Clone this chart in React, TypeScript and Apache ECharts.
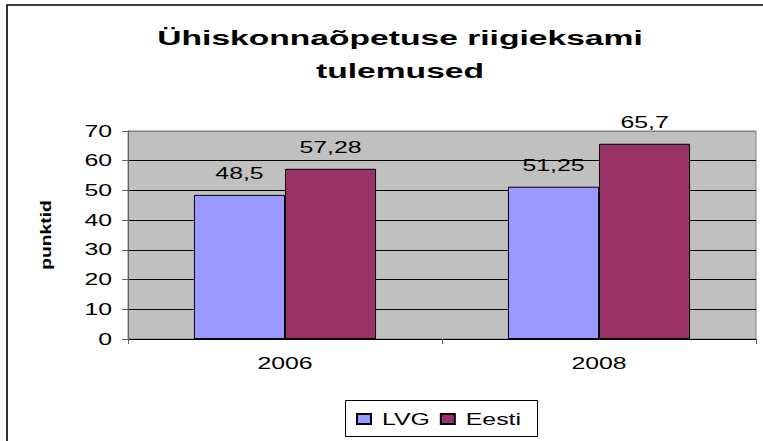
import React, { useEffect, useRef } from "react";
import * as echarts from "echarts";

const categories = ["2006", "2008"];
const lvgValues = [48.5, 51.25];
const eestiValues = [57.28, 65.7];
const seriesNames = ["LVG", "Eesti"];
const titleText = "Ühiskonnaõpetuse riigieksami\ntulemused";
const yAxisName = "punktid";

const FONT = "'Liberation Sans', Arial, sans-serif";

// The reference's texts are drawn horizontally stretched along their reading direction.
function stretchFor(txt: string): number {
  if (txt.indexOf("Ühiskonna") === 0 || txt === "tulemused") return 1.68;
  if (txt === yAxisName) return 1.38;
  return 1.55;
}

function stretchTexts(root: HTMLElement | null) {
  if (!root) return;
  const nodes = root.querySelectorAll("svg text");
  nodes.forEach((node) => {
    const t = node as SVGTextElement;
    const content = t.textContent || "";
    if (!content.trim()) return;
    let w0 = t.getAttribute("data-w0");
    if (w0 == null || t.getAttribute("data-txt") !== content) {
      t.removeAttribute("textLength");
      const len = t.getComputedTextLength();
      if (!len) return;
      w0 = String(len);
      t.setAttribute("data-w0", w0);
      t.setAttribute("data-txt", content);
    }
    t.setAttribute("textLength", String(parseFloat(w0) * stretchFor(content)));
    t.setAttribute("lengthAdjust", "spacingAndGlyphs");
  });
}

export default function App() {
  const ref = useRef<HTMLDivElement>(null);
  useEffect(() => {
    if (!ref.current) return;
    const el = ref.current;
    const chart = echarts.init(el, undefined, { renderer: "svg" });
    const labelFmt = (p: any) => String(p.value).replace(".", ",");
    const barLabel = {
      show: true,
      position: "top",
      distance: 13,
      formatter: labelFmt,
      fontFamily: FONT,
      fontSize: 16,
      color: "#000",
    };
    chart.setOption({
      animation: false,
      backgroundColor: "#fff",
      textStyle: { fontFamily: FONT },
      title: {
        text: titleText,
        left: 400,
        top: 21,
        padding: 0,
        textAlign: "center",
        textStyle: {
          fontFamily: FONT,
          fontWeight: "bold",
          fontSize: 20,
          lineHeight: 33,
          color: "#000",
        },
      },
      graphic: [
        {
          type: "rect",
          shape: { x: 7, y: 5, width: 800, height: 500 },
          style: { fill: "none", stroke: "#000", lineWidth: 1.6 },
          silent: true,
          z: 10,
        },
        {
          type: "rect",
          shape: { x: 345.5, y: 400.5, width: 192, height: 36 },
          style: { fill: "#fff", stroke: "#000", lineWidth: 1 },
          silent: true,
          z: 0,
        },
      ],
      legend: {
        left: 356,
        top: 411,
        padding: 0,
        itemWidth: 14,
        itemHeight: 10,
        itemGap: 27,
        icon: "rect",
        z: 5,
        textStyle: {
          fontFamily: FONT,
          fontSize: 16,
          color: "#000",
          padding: [0, 0, 0, 6],
        },
        data: seriesNames,
      },
      grid: {
        left: 128,
        top: 131,
        width: 628,
        height: 208,
        show: true,
        backgroundColor: "#C0C0C0",
        borderColor: "#808080",
        borderWidth: 1,
      },
      xAxis: {
        type: "category",
        data: categories,
        axisLine: { show: true, lineStyle: { color: "#000", width: 1 } },
        axisTick: { show: true, length: 5, lineStyle: { color: "#606060" } },
        axisLabel: { fontFamily: FONT, fontSize: 16, color: "#000", margin: 16 },
      },
      yAxis: {
        type: "value",
        min: 0,
        max: 70,
        interval: 10,
        name: yAxisName,
        nameLocation: "middle",
        nameRotate: 90,
        nameGap: 75,
        nameTextStyle: { fontFamily: FONT, fontSize: 14, fontWeight: "bold", color: "#000" },
        axisLine: { show: true, lineStyle: { color: "#606060", width: 1 } },
        axisTick: { show: true, length: 6, lineStyle: { color: "#606060" } },
        axisLabel: { fontFamily: FONT, fontSize: 16, color: "#000", margin: 16 },
        splitLine: {
          show: true,
          lineStyle: {
            color: ["#000", "#000", "#000", "#000", "#000", "#000", "#000", "#808080"],
            width: 1,
          },
        },
      },
      series: [
        {
          name: seriesNames[0],
          type: "bar",
          data: lvgValues,
          barGap: "0%",
          barCategoryGap: "42%",
          itemStyle: { color: "#9999FF", borderColor: "#000", borderWidth: 1 },
          label: barLabel,
        },
        {
          name: seriesNames[1],
          type: "bar",
          data: eestiValues,
          barGap: "0%",
          barCategoryGap: "42%",
          itemStyle: { color: "#993366", borderColor: "#000", borderWidth: 1 },
          label: barLabel,
        },
      ],
    });
    const run = () => stretchTexts(el);
    run();
    chart.on("finished", run);
    const raf = requestAnimationFrame(run);
    const t1 = setTimeout(run, 50);
    const t2 = setTimeout(run, 300);
    return () => {
      cancelAnimationFrame(raf);
      clearTimeout(t1);
      clearTimeout(t2);
      chart.dispose();
    };
  }, []);
  return (
    <div
      ref={ref}
      style={{ position: "fixed", left: 0, top: 0, width: 763, height: 441 }}
    />
  );
}
